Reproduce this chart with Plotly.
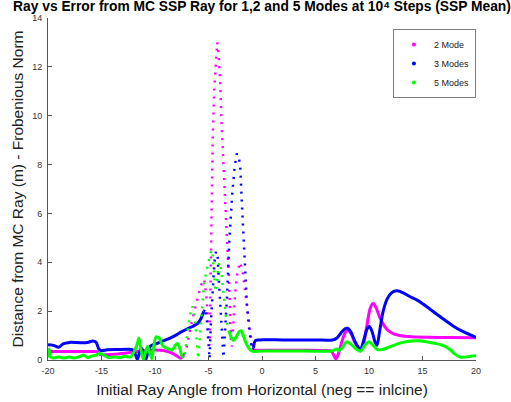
import plotly.graph_objects as go

# ---------------- data ----------------
x2 = [-20, -18, -16, -15.4, -15.1, -14.5, -13.5, -12.5, -11.5, -10.5, -9.5, -9.0, -8.5, -8.0,
      -7.6, -7.3, -7.0, -6.7, -6.4, -6.1, -5.8, -5.55, -5.4, -5.2, -5.0, -4.87, -4.8, -4.72,
      -4.6, -4.45, -4.3, -4.18, -4.05, -3.9, -3.8, -3.68, -3.55, -3.43, -3.27, -3.1, -3.0,
      -2.92, -2.8, -2.65, -2.5, -2.3, -2.05, -1.8, -1.6, -1.4, -1.2, -1.05, -0.9, -0.7, 0,
      2, 4, 6, 6.5, 6.75, 6.9, 7.1, 7.4, 7.7, 8.0, 8.3, 8.7, 9.2, 9.5, 9.8, 10.1, 10.4, 10.7,
      11.0, 11.4, 11.8, 12.3, 13.0, 14.0, 15.5, 17.5, 20]
y2 = [0.35, 0.35, 0.35, 0.34, 0.22, 0.22, 0.25, 0.30, 0.36, 0.40, 0.40, 0.37, 0.30, 0.18,
      0.07, 0.20, 0.60, 1.30, 1.90, 2.40, 2.90, 3.25, 3.30, 2.60, 1.40, 0.60, 3.50, 6.50,
      9.20, 11.2, 12.5, 13.0, 12.5, 11.3, 9.90, 8.70, 7.30, 6.30, 4.90, 3.50, 2.00,
      0.90, 0.55, 1.50, 2.80, 3.60, 4.00, 3.60, 2.90, 2.20, 1.40, 0.80, 0.45, 0.40, 0.40,
      0.40, 0.40, 0.39, 0.36, 0.15, 0.05, 0.20, 0.65, 1.05, 1.23, 1.10, 0.70, 0.37, 0.65,
      1.40, 2.10, 2.32, 2.10, 1.75, 1.42, 1.20, 1.07, 0.99, 0.95, 0.93, 0.92, 0.91]

x3 = [-20, -19.5, -19.0, -18.6, -18.0, -17.0, -16.3, -15.8, -15.5, -15.25, -15.0, -14.5, -13.5,
      -12.5, -12.1, -11.85, -11.65, -11.45, -11.25, -11.05, -10.85, -10.65, -10.4, -10.0,
      -9.5, -9.0, -8.5, -8.0, -7.5, -7.0, -6.5, -6.0, -5.7, -5.45, -5.3, -5.15, -5.0, -4.9,
      -4.78, -4.62, -4.45, -4.3, -4.15, -4.0, -3.8, -3.6, -3.43, -3.27, -3.05, -2.8, -2.56,
      -2.35, -2.15, -2.03, -1.87, -1.72, -1.56, -1.4, -1.2, -1.05, -0.93, -0.8, -0.65, -0.4,
      2, 5, 6.6, 7.0, 7.4, 7.75, 8.0, 8.3, 8.7, 9.2, 9.5, 9.8, 10.05, 10.3, 10.55, 10.75,
      11.0, 11.3, 11.7, 12.1, 12.6, 13.2, 13.8, 14.5, 15.5, 16.4, 17.3, 18.2, 19.1, 20]
y3 = [0.62, 0.60, 0.52, 0.66, 0.72, 0.71, 0.72, 0.78, 0.72, 0.45, 0.38, 0.42, 0.43,
      0.44, 0.42, 0.25, 0.02, 0.30, 0.48, 0.30, 0.02, 0.35, 0.58, 0.65,
      0.73, 0.82, 0.92, 1.03, 1.16, 1.27, 1.37, 1.50, 1.70, 1.98, 2.12, 1.60, 0.70, 0.05,
      1.50, 3.00, 4.00, 4.45, 4.20, 3.00, 1.40, 0.10, 1.37, 2.60, 4.90, 6.70, 7.90,
      8.45, 8.25, 7.90, 6.30, 4.90, 3.55, 2.20, 1.30, 0.70, 0.40, 0.50, 0.78, 0.82,
      0.82, 0.82, 0.82, 0.90, 1.12, 1.28, 1.30, 1.15, 0.75, 0.42, 0.80, 1.25, 1.37, 1.15,
      0.75, 0.60, 1.20, 1.95, 2.50, 2.75, 2.83, 2.75, 2.60, 2.45, 2.15, 1.85, 1.57, 1.30,
      1.10, 0.93]

x5 = [-20, -19.9, -19.8, -19.5, -19.0, -18.5, -18.0, -17.5, -17.0, -16.7, -16.3, -16.0, -15.5,
      -15.2, -14.8, -14.3, -13.8, -13.3, -12.8, -12.3, -12.0, -11.7, -11.5, -11.3, -11.1,
      -10.9, -10.7, -10.5, -10.3, -10.1, -9.9, -9.6, -9.3, -9.0, -8.7, -8.4, -8.1, -7.9,
      -7.7, -7.5, -7.3, -7.1, -6.9, -6.7, -6.5, -6.3, -6.1, -5.95, -5.8, -5.6, -5.4, -5.2,
      -5.0, -4.8, -4.65, -4.5, -4.35, -4.2, -4.05, -3.9, -3.75, -3.55, -3.35, -3.1, -2.85,
      -2.65, -2.4, -2.15, -1.95, -1.75, -1.5, -1.25, -1.0, -0.8, 0, 3, 6.5, 7.0, 7.2, 7.5,
      7.9, 8.3, 8.8, 9.2, 9.6, 10.0, 10.4, 10.8, 11.4, 12.0, 12.8, 13.6, 14.5, 15.5, 16.4,
      17.0, 17.6, 18.0, 18.5, 19.0, 19.5, 20]
y5 = [0.10, 0.45, 0.15, 0.08, 0.12, 0.08, 0.12, 0.08, 0.15, 0.20, 0.10, 0.15, 0.20,
      0.28, 0.20, 0.10, 0.12, 0.10, 0.15, 0.12, 0.30, 0.60, 0.90, 0.40, 0.02,
      0.30, 0.55, 0.30, 0.05, 0.60, 0.95, 0.90, 0.60, 0.50, 0.45, 0.40, 0.60, 0.68,
      0.50, 0.15, 0.05, 0.60, 1.40, 1.90, 2.20, 1.80, 0.80, 0.05, 1.00, 2.30, 3.20, 3.60,
      4.00, 4.40, 4.50, 3.80, 2.80, 3.20, 3.90, 4.00, 3.40, 2.40, 1.70, 1.20, 0.90,
      0.80, 0.95, 1.15, 1.20, 1.00, 0.70, 0.50, 0.38, 0.35, 0.37, 0.37, 0.37, 0.45, 0.38,
      0.50, 0.75, 0.65, 0.45, 0.36, 0.60, 0.75, 0.60, 0.42, 0.45, 0.55, 0.68, 0.76, 0.79,
      0.74, 0.66, 0.58, 0.42, 0.25, 0.12, 0.12, 0.15, 0.17]

names = ["2 Mode", "3 Modes", "5 Modes"]
x_ticks = [-20, -15, -10, -5, 0, 5, 10, 15, 20]
y_ticks = [0, 2, 4, 6, 8, 10, 12, 14]

# ---------------- style ----------------
colors = ["#FF00FF", "#0000FF", "#00FF00"]
dotted_ranges = [(-7.2, -0.95), (-5.35, -0.9), (-7.45, -3.3)]


def split(xs, ys, rng):
    a, b = rng
    inside = [a < x < b for x in xs]
    solid = [None if inside[i] else ys[i] for i in range(len(xs))]
    idx = [i for i in range(len(xs)) if inside[i]]
    lo = max(idx[0] - 1, 0)
    hi = min(idx[-1] + 1, len(xs) - 1)
    return solid, xs[lo:hi + 1], ys[lo:hi + 1]


fig = go.Figure()
series = [(x2, y2), (x3, y3), (x5, y5)]
for (xs, ys), c, rng in zip(series, colors, dotted_ranges):
    solid, dx, dy = split(xs, ys, rng)
    fig.add_trace(go.Scatter(x=xs, y=solid, mode="lines", showlegend=False,
                             line=dict(color=c, width=3, shape="spline", smoothing=0.7),
                             hoverinfo="skip"))
    fig.add_trace(go.Scatter(x=dx, y=dy, mode="lines", showlegend=False,
                             line=dict(color=c, width=2.5, dash="2px,6px"),
                             hoverinfo="skip"))

for n, c in zip(names, colors):
    fig.add_trace(go.Scatter(x=[None], y=[None], mode="markers", name=n,
                             marker=dict(color=c, size=4)))

font_family = "Liberation Sans, Arial, Helvetica, sans-serif"
axis_common = dict(ticks="inside", ticklen=4, tickcolor="#555", showline=True,
                   linecolor="#555", linewidth=1, showgrid=False, zeroline=False,
                   automargin=False,
                   tickfont=dict(size=9, color="#333", family=font_family), mirror=False)

fig.update_layout(
    width=511, height=402,
    margin=dict(l=48, r=35, t=18, b=42),
    paper_bgcolor="white", plot_bgcolor="white",
    font=dict(family=font_family, color="#222"),
    title=dict(text="<b>Ray vs Error from MC SSP Ray for 1,2 and 5 Modes at 10\u2074 Steps (SSP Mean)</b>",
               x=0.5, xref="paper", xanchor="center", y=0.996, yref="container",
               yanchor="top", font=dict(size=13.8, color="black", family=font_family)),
    xaxis=dict(range=[-20, 20], tickvals=x_ticks, ticktext=[str(v) for v in x_ticks],
               ticklabelstandoff=2,
               title=dict(text="Initial Ray Angle from Horizontal (neg == inlcine)",
                          font=dict(size=15.5, color="#222"), standoff=9),
               **axis_common),
    yaxis=dict(range=[0, 14], tickvals=y_ticks, ticktext=[str(v) for v in y_ticks],
               ticklabelstandoff=3,
               title=dict(text="Distance from MC Ray (m) - Frobenious Norm",
                          font=dict(size=15.5, color="#222"), standoff=4),
               **axis_common),
    legend=dict(x=0.806, y=0.968, xanchor="left", yanchor="top", bgcolor="white",
                bordercolor="#808080", borderwidth=1, font=dict(size=9, color="#222"),
                itemwidth=30),
)

fig.write_html("out.html",
               config={"displayModeBar": False},
               post_script="document.body.style.margin='0';document.body.style.padding='0';")
